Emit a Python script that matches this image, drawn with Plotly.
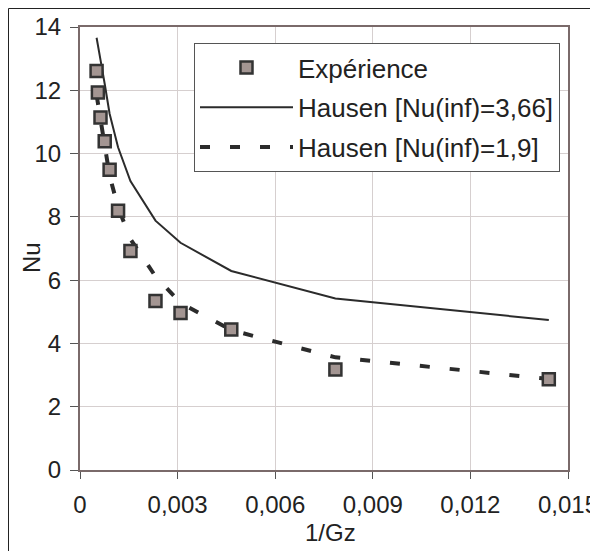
import plotly.graph_objects as go

# Data
inv_gz = [0.00051, 0.00055, 0.00063, 0.00076, 0.00091, 0.00117, 0.00155, 0.00232, 0.00309, 0.00465, 0.00785, 0.01441]
nu_exp = [12.61, 11.93, 11.14, 10.39, 9.49, 8.19, 6.92, 5.34, 4.96, 4.44, 3.18, 2.87]
nu_hausen_366 = [13.66, 13.45, 12.96, 12.2, 11.26, 10.2, 9.13, 7.88, 7.18, 6.29, 5.42, 4.74]
nu_hausen_19 = [11.85, 11.6, 11.15, 10.2, 9.3, 8.3, 7.3, 6.12, 5.28, 4.42, 3.56, 2.88]

x_tickvals = [0, 0.003, 0.006, 0.009, 0.012, 0.015]
x_ticktext = ["0", "0,003", "0,006", "0,009", "0,012", "0,015"]
y_tickvals = [0, 2, 4, 6, 8, 10, 12, 14]

# The page body adds an 8px margin; figure coordinates = window coordinates - 8
OFF = 8
W, H = 598 - OFF, 551 - OFF
PL, PR, PT, PB = 80 - OFF, 568 - OFF, 27 - OFF, 470 - OFF   # plot area in figure px
L, R, T, B = PL, W - PR, PT, H - PB
pw, ph = PR - PL, PB - PT

def px2paper(wx, wy):
    """window pixel -> paper coords"""
    x = wx - OFF
    y = wy - OFF
    return (x - PL) / pw, (PB - y) / ph

FONT = "Liberation Sans, Arial, sans-serif"
TXT = "#222222"
fig = go.Figure()
fig.add_trace(go.Scatter(x=inv_gz, y=nu_hausen_366, mode="lines", name="Hausen [Nu(inf)=3,66]",
                         line=dict(color="#2b2b2b", width=2), legendrank=2, legendgroup="b"))
fig.add_trace(go.Scatter(x=inv_gz, y=nu_hausen_19, mode="lines", name="Hausen [Nu(inf)=1,9]",
                         line=dict(color="#2b2b2b", width=4, dash="10px,20px"), legendrank=3,
                         legendgroup="c"))
fig.add_trace(go.Scatter(x=inv_gz, y=nu_exp, mode="markers", name="Expérience",
                         marker=dict(symbol="square", size=12, color="#a39592",
                                     line=dict(color="#333333", width=2.5)), legendrank=1,
                         legendgroup="a"))

# outer chart border (top/left visible, right/bottom fall outside the window)
fig.add_shape(type="rect", xref="paper", yref="paper",
              x0=(0.5 - PL) / pw, x1=(W + 20 - PL) / pw,
              y0=(PB - (H + 20)) / ph, y1=(PB - 0.5) / ph,
              line=dict(color="#222222", width=1), layer="below")

lx, ly = px2paper(194, 43)
fig.update_layout(
    width=W, height=H,
    margin=dict(l=L, r=R, t=T, b=B, autoexpand=False),
    paper_bgcolor="white", plot_bgcolor="white",
    font=dict(family=FONT, size=24, color=TXT),
    showlegend=True,
    legend=dict(x=lx, y=ly, xanchor="left", yanchor="top", bgcolor="white",
                bordercolor="#555555", borderwidth=1, itemwidth=93,
                font=dict(family=FONT, size=26, color=TXT), tracegroupgap=3),
    xaxis=dict(range=[0, 0.015], tickvals=x_tickvals, ticktext=x_ticktext,
               showgrid=True, gridcolor="#d6cfcf", gridwidth=1,
               showline=True, linecolor="#7a6a6a", linewidth=2, mirror=True,
               ticks="outside", ticklen=7, tickcolor="#555555", zeroline=False,
               ticklabeloverflow="allow", ticklabelstandoff=5,
               tickfont=dict(family=FONT, size=24, color=TXT)),
    yaxis=dict(range=[0, 14], tickvals=y_tickvals,
               showgrid=True, gridcolor="#d6cfcf", gridwidth=1,
               showline=True, linecolor="#7a6a6a", linewidth=2, mirror=True,
               ticks="outside", ticklen=8, tickcolor="#555555", zeroline=False,
               ticklabelstandoff=4,
               tickfont=dict(family=FONT, size=24, color=TXT)),
)
ax, ay = px2paper(330, 532)
fig.add_annotation(text="1/Gz", xref="paper", yref="paper", x=ax, y=ay, showarrow=False,
                   xanchor="center", yanchor="middle",
                   font=dict(family=FONT, size=24, color=TXT))
bx, by = px2paper(31, 258)
fig.add_annotation(text="Nu", xref="paper", yref="paper", x=bx, y=by, showarrow=False,
                   xanchor="center", yanchor="middle", textangle=-90,
                   font=dict(family=FONT, size=24, color=TXT))

fig.write_html("out.html")
